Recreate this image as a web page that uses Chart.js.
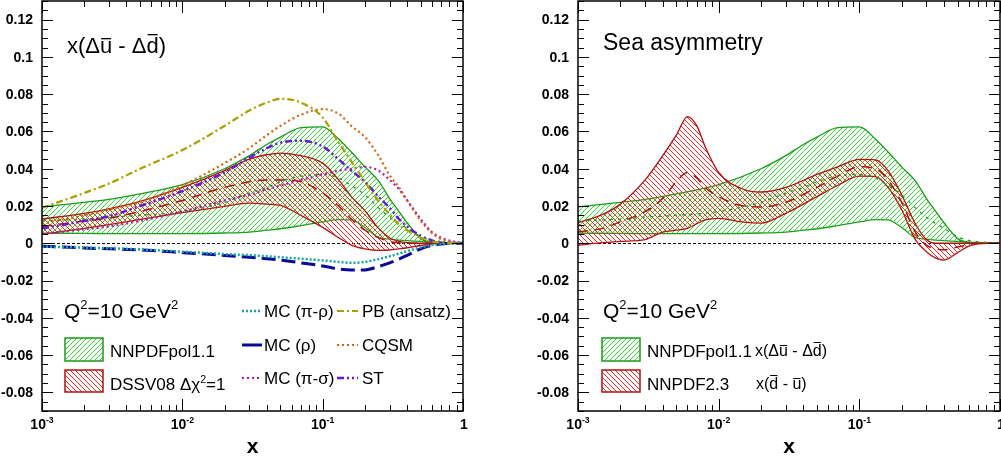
<!DOCTYPE html>
<html>
<head>
<meta charset="utf-8">
<script src="https://cdn.jsdelivr.net/npm/chart.js@4.4.0/dist/chart.umd.min.js"></script>
<style>
html, body { margin: 0; padding: 0; background: #fff; }
#wrap { position: relative; width: 1001px; height: 465px; overflow: hidden; }
#left, #right { position: absolute; top: 0; }
#left { left: 0; }
#right { left: 500px; }
</style>
</head>
<body>
<div id="wrap">
  <canvas id="left" width="490" height="465"></canvas>
  <canvas id="right" width="501" height="465"></canvas>
</div>
<script>
// x-Stützstellen (links, und NNPDFpol1.1 rechts)
const xGrid = [0.001, 0.002, 0.003, 0.005, 0.01, 0.02, 0.03, 0.04, 0.05, 0.07, 0.1, 0.13, 0.16, 0.2, 0.25, 0.3, 0.35, 0.4, 0.5, 0.6, 0.7, 0.85, 1];

// NNPDFpol1.1 Band
const nnpdfPolUp = [0.0195, 0.022, 0.0235, 0.0265, 0.0315, 0.040, 0.047, 0.053, 0.057, 0.062, 0.0625, 0.056, 0.049, 0.041, 0.0335, 0.024, 0.017, 0.011, 0.0025, 0.0005, 0.0002, 0.0001, 0];
const nnpdfPolLo = [0.0054, 0.0053, 0.0052, 0.0052, 0.0052, 0.0055, 0.006, 0.007, 0.0078, 0.0095, 0.0115, 0.0127, 0.0125, 0.0085, 0.003, 0.0022, 0.0017, 0.0014, 0.001, 0.0006, 0.0004, 0.0002, 0];
const nnpdfPolCv = [0.012, 0.013, 0.014, 0.015, 0.017, 0.022, 0.027, 0.030, 0.033, 0.036, 0.037, 0.035, 0.031, 0.026, 0.019, 0.014, 0.0105, 0.008, 0.0035, 0.0015, 0.0008, 0.0003, 0];

// DSSV08 Band
const dssvUp = [0.013, 0.016, 0.0185, 0.0225, 0.030, 0.039, 0.0452, 0.0475, 0.0484, 0.047, 0.043, 0.034, 0.025, 0.0175, 0.008, 0.003, 0.001, 0.0003, 0, 0, 0, 0, 0];
const dssvLo = [0.0048, 0.008, 0.010, 0.0128, 0.0165, 0.0198, 0.0215, 0.021, 0.0203, 0.015, 0.0085, 0.003, -0.001, -0.003, -0.0038, -0.0036, -0.003, -0.0024, -0.0012, -0.0004, 0, 0, 0];
const dssvCv = [0.009, 0.012, 0.0135, 0.017, 0.023, 0.030, 0.033, 0.034, 0.034, 0.033, 0.027, 0.020, 0.013, 0.007, 0.003, 0.001, 0.0003, 0, 0, 0, 0, 0, 0];

// Modellkurven
const pbAnsatz = [0.019, 0.027, 0.032, 0.040, 0.050, 0.063, 0.0712, 0.0755, 0.0775, 0.0755, 0.0675, 0.054, 0.044, 0.033, 0.0225, 0.0155, 0.010, 0.007, 0.003, 0.001, 0.0004, 0.0001, 0];
const cqsm = [0.0105, 0.015, 0.018, 0.022, 0.031, 0.043, 0.051, 0.058, 0.063, 0.069, 0.072, 0.0695, 0.063, 0.057, 0.047, 0.0365, 0.030, 0.023, 0.012, 0.0055, 0.0022, 0.0005, 0];
const st = [0.008, 0.012, 0.0145, 0.020, 0.028, 0.038, 0.046, 0.051, 0.054, 0.055, 0.052, 0.045, 0.039, 0.033, 0.025, 0.019, 0.013, 0.009, 0.004, 0.0015, 0.0006, 0.0002, 0];
const mcPiSigma = [0.005, 0.0075, 0.009, 0.012, 0.017, 0.023, 0.026, 0.029, 0.031, 0.034, 0.037, 0.039, 0.040, 0.041, 0.039, 0.034, 0.029, 0.023, 0.013, 0.006, 0.003, 0.001, 0];
const mcPiRho = [-0.0018, -0.0023, -0.0027, -0.0033, -0.0045, -0.0058, -0.0064, -0.007, -0.0075, -0.0083, -0.0092, -0.0100, -0.0105, -0.0100, -0.0085, -0.0070, -0.0055, -0.0042, -0.0022, -0.001, -0.0005, -0.0001, 0];
const mcRho = [-0.0016, -0.0025, -0.003, -0.0036, -0.005, -0.0065, -0.0075, -0.0083, -0.009, -0.0105, -0.0122, -0.0138, -0.0144, -0.0143, -0.0125, -0.0105, -0.0085, -0.0065, -0.003, -0.0012, -0.0004, 0, 0];

// NNPDF2.3 x(dbar - ubar), rechts
const x23Grid = [0.001, 0.0015, 0.002, 0.003, 0.004, 0.005, 0.006, 0.007, 0.008, 0.01, 0.015, 0.02, 0.03, 0.05, 0.07, 0.1, 0.13, 0.16, 0.2, 0.25, 0.3, 0.35, 0.4, 0.5, 0.6, 0.7, 0.85, 1];
const nnpdf23Up = [0.011, 0.0155, 0.021, 0.034, 0.047, 0.058, 0.068, 0.063, 0.052, 0.038, 0.029, 0.0275, 0.030, 0.037, 0.041, 0.045, 0.0448, 0.039, 0.026, 0.0105, 0.002, 0, 0, 0, 0, 0, 0, 0];
const nnpdf23Lo = [-0.001, 0.0003, 0.001, 0.002, 0.006, 0.007, 0.008, 0.0105, 0.0125, 0.0134, 0.0113, 0.0108, 0.016, 0.025, 0.031, 0.036, 0.0358, 0.030, 0.018, 0.002, -0.0045, -0.008, -0.009, -0.005, -0.0015, -0.0003, 0, 0];
const nnpdf23Cv = [0.006, 0.008, 0.0115, 0.017, 0.024, 0.033, 0.038, 0.035, 0.030, 0.025, 0.020, 0.0195, 0.022, 0.030, 0.036, 0.041, 0.040, 0.034, 0.022, 0.006, -0.001, -0.003, -0.0035, -0.002, -0.0008, 0, 0, 0];

// Achsen
const yMin = -0.09, yMax = 0.13;
const yTickLabels = ['-0.08', '-0.06', '-0.04', '-0.02', '0', '0.02', '0.04', '0.06', '0.08', '0.1', '0.12'];
const xTickExps = ['-3', '-2', '-1', ''];

// Farben
const greenHatch = '#2ee02e', greenLine = '#1b9a1b';
const redHatch = '#ff2020', redLine = '#b01212';
const FONT = '"Liberation Sans", Arial, sans-serif';

// Schraffur-Muster
function hatch(color, dir) {
    const s = 5;
    const c = document.createElement('canvas');
    c.width = s; c.height = s;
    const g = c.getContext('2d');
    g.strokeStyle = color;
    g.lineWidth = 1;
    g.beginPath();
    if (dir > 0) {
        g.moveTo(-1, s + 1); g.lineTo(s + 1, -1);
        g.moveTo(-1, 1); g.lineTo(1, -1);
        g.moveTo(s - 1, s + 1); g.lineTo(s + 1, s - 1);
    } else {
        g.moveTo(-1, -1); g.lineTo(s + 1, s + 1);
        g.moveTo(s - 1, -1); g.lineTo(s + 1, 1);
        g.moveTo(-1, s - 1); g.lineTo(1, s + 1);
    }
    g.stroke();
    return document.createElement('canvas').getContext('2d').createPattern(c, 'repeat');
}
const greenPattern = hatch(greenHatch, 1);
const redPattern = hatch(redHatch, -1);

const pts = (xs, ys) => xs.map((x, i) => ({ x: x, y: ys[i] }));

function line(data, color, width, dash, order) {
    return {
        data: data, borderColor: color, borderWidth: width, borderDash: dash,
        fill: false, pointRadius: 0, order: order, cubicInterpolationMode: 'monotone'
    };
}
function bandUpper(data, pattern, color, order) {
    return {
        data: data, borderColor: color, borderWidth: 1.3, backgroundColor: pattern,
        fill: '+1', pointRadius: 0, order: order, cubicInterpolationMode: 'monotone'
    };
}

// Text mit Hochstellung und Querstrichen
function rich(ctx, parts, x, y, size, bold, align) {
    const f = s => (bold ? 'bold ' : '') + s + 'px ' + FONT;
    let w = 0;
    for (const p of parts) {
        const o = typeof p === 'string' ? { t: p } : p;
        ctx.font = f(o.sup ? size * 0.62 : size);
        w += ctx.measureText(o.t).width;
    }
    let cx = align === 'center' ? x - w / 2 : x;
    ctx.textAlign = 'left';
    ctx.textBaseline = 'alphabetic';
    for (const p of parts) {
        const o = typeof p === 'string' ? { t: p } : p;
        const s = o.sup ? size * 0.62 : size;
        ctx.font = f(s);
        const tw = ctx.measureText(o.t).width;
        ctx.fillText(o.t, cx, y - (o.sup ? size * 0.42 : 0));
        if (o.bar) {
            ctx.fillRect(cx + size * 0.05, Math.round(y - size * o.bar), tw - size * 0.1, Math.max(1, size * 0.06));
        }
        cx += tw;
    }
}

function legendBox(ctx, x, y, w, h, pattern, color) {
    ctx.save();
    ctx.fillStyle = '#fff';
    ctx.fillRect(x, y, w, h);
    ctx.fillStyle = pattern;
    ctx.fillRect(x, y, w, h);
    ctx.strokeStyle = color;
    ctx.lineWidth = 1.5;
    ctx.strokeRect(x, y, w, h);
    ctx.restore();
}

function legendLine(ctx, x1, x2, y, color, width, dash) {
    ctx.save();
    ctx.strokeStyle = color;
    ctx.lineWidth = width;
    ctx.setLineDash(dash);
    ctx.beginPath();
    ctx.moveTo(x1, y);
    ctx.lineTo(x2, y);
    ctx.stroke();
    ctx.restore();
}

// Rahmen, Ticks und Beschriftung im ROOT-Stil
function framePlugin(extra) {
    return {
        id: 'frame',
        beforeDatasetsDraw(chart) {
            const { ctx, chartArea: a, scales: { y } } = chart;
            const y0 = Math.round(y.getPixelForValue(0)) + 0.5;
            ctx.save();
            ctx.strokeStyle = '#000';
            ctx.lineWidth = 1;
            ctx.setLineDash([3, 2]);
            ctx.beginPath();
            ctx.moveTo(a.left, y0);
            ctx.lineTo(a.right, y0);
            ctx.stroke();
            ctx.restore();
        },
        afterDraw(chart) {
            const { ctx, chartArea: a, scales: { x, y } } = chart;
            ctx.save();
            ctx.strokeStyle = '#000';
            ctx.lineWidth = 1;
            ctx.beginPath();
            // y-Ticks
            for (let k = -18; k <= 26; k++) {
                const p = Math.round(y.getPixelForValue(k * 0.005)) + 0.5;
                const len = k % 4 === 0 ? 11 : 6;
                ctx.moveTo(a.left, p); ctx.lineTo(a.left + len, p);
                ctx.moveTo(a.right, p); ctx.lineTo(a.right - len, p);
            }
            // x-Ticks
            for (let d = -3; d <= 0; d++) {
                for (let m = 1; m <= 9; m++) {
                    const v = m * Math.pow(10, d);
                    if (v > 1.0001) break;
                    const p = Math.round(x.getPixelForValue(v)) + 0.5;
                    const len = m === 1 ? 12 : 6;
                    ctx.moveTo(p, a.bottom); ctx.lineTo(p, a.bottom - len);
                    ctx.moveTo(p, a.top); ctx.lineTo(p, a.top + len);
                }
            }
            ctx.stroke();
            ctx.lineWidth = 1.5;
            ctx.strokeRect(a.left, a.top, a.right - a.left, a.bottom - a.top);

            ctx.fillStyle = '#000';
            // y-Beschriftung
            ctx.font = 'bold 14px ' + FONT;
            ctx.textAlign = 'right';
            ctx.textBaseline = 'middle';
            yTickLabels.forEach(t => {
                ctx.fillText(t, a.left - 9, y.getPixelForValue(parseFloat(t)) + 1);
            });
            // x-Beschriftung
            xTickExps.forEach((e, i) => {
                const px = x.getPixelForValue(Math.pow(10, i - 3));
                if (e) rich(ctx, ['10', { t: e, sup: true }], px, a.bottom + 18, 14, true, 'center');
                else rich(ctx, ['1'], px + 1, a.bottom + 18, 14, true, 'center');
            });
            rich(ctx, ['x'], (a.left + a.right) / 2, a.bottom + 42, 21, true, 'center');
            extra(ctx, chart);
            ctx.restore();
        }
    };
}

function baseOptions(padding) {
    return {
        responsive: false,
        animation: false,
        layout: { padding: padding },
        plugins: { legend: { display: false }, tooltip: { enabled: false } },
        scales: {
            x: { type: 'logarithmic', min: 0.001, max: 1, display: false },
            y: { min: yMin, max: yMax, display: false }
        }
    };
}

// linkes Diagramm
new Chart(document.getElementById('left'), {
    type: 'line',
    data: {
        datasets: [
            bandUpper(pts(xGrid, nnpdfPolUp), greenPattern, greenLine, 10),
            line(pts(xGrid, nnpdfPolLo), greenLine, 1.3, [], 10),
            bandUpper(pts(xGrid, dssvUp), redPattern, redLine, 9),
            line(pts(xGrid, dssvLo), redLine, 1.3, [], 9),
            line(pts(xGrid, nnpdfPolCv), greenLine, 1.3, [3, 5], 8),
            line(pts(xGrid, dssvCv), redLine, 1.5, [10, 7], 8),
            line(pts(xGrid, mcPiRho), '#15a5a5', 2.5, [2, 2], 2),
            line(pts(xGrid, mcRho), '#0a0a9a', 3, [14, 6], 2),
            line(pts(xGrid, mcPiSigma), '#b21ab2', 2.2, [2, 3], 2),
            line(pts(xGrid, pbAnsatz), '#a8a000', 2.2, [7, 3, 2, 3], 1),
            line(pts(xGrid, cqsm), '#d2660e', 2.2, [2, 3], 1),
            line(pts(xGrid, st), '#6c16d6', 2.5, [7, 3, 2, 3, 2, 3], 1)
        ]
    },
    options: baseOptions({ left: 42, right: 27, top: 1, bottom: 54 }),
    plugins: [framePlugin((ctx) => {
        rich(ctx, ['x(', 'Δ', { t: 'u', bar: 0.66 }, ' - ', 'Δ', { t: 'd', bar: 0.86 }, ')'], 67, 53, 22, false);
        rich(ctx, ['Q', { t: '2', sup: true }, '=10 GeV', { t: '2', sup: true }], 64, 318, 21, false);
        legendBox(ctx, 65, 338, 38, 23, greenPattern, greenLine);
        legendBox(ctx, 65, 370, 38, 22, redPattern, redLine);
        rich(ctx, ['NNPDFpol1.1'], 110, 357, 17, false);
        rich(ctx, ['DSSV08 Δχ', { t: '2', sup: true }, '=1'], 110, 390, 17, false);
        legendLine(ctx, 242, 262, 311, '#15a5a5', 2.5, [2, 2]);
        legendLine(ctx, 242, 262, 345, '#0a0a9a', 3, []);
        legendLine(ctx, 242, 262, 378, '#b21ab2', 2.2, [2, 3]);
        legendLine(ctx, 337, 358, 311, '#a8a000', 2.2, [7, 3, 2, 3]);
        legendLine(ctx, 337, 358, 345, '#d2660e', 2.2, [2, 3]);
        legendLine(ctx, 337, 358, 378, '#6c16d6', 2.5, [7, 3, 2, 3, 2, 3]);
        rich(ctx, ['MC (π-ρ)'], 264, 317, 17, false);
        rich(ctx, ['MC (ρ)'], 264, 351, 17, false);
        rich(ctx, ['MC (π-σ)'], 264, 384, 17, false);
        rich(ctx, ['PB (ansatz)'], 362, 317, 17, false);
        rich(ctx, ['CQSM'], 362, 351, 17, false);
        rich(ctx, ['ST'], 362, 384, 17, false);
    })]
});

// rechtes Diagramm
new Chart(document.getElementById('right'), {
    type: 'line',
    data: {
        datasets: [
            bandUpper(pts(xGrid, nnpdfPolUp), greenPattern, greenLine, 10),
            line(pts(xGrid, nnpdfPolLo), greenLine, 1.3, [], 10),
            bandUpper(pts(x23Grid, nnpdf23Up), redPattern, redLine, 9),
            line(pts(x23Grid, nnpdf23Lo), redLine, 1.3, [], 9),
            line(pts(xGrid, nnpdfPolCv), greenLine, 1.3, [3, 5], 8),
            line(pts(x23Grid, nnpdf23Cv), redLine, 1.5, [10, 7], 8)
        ]
    },
    options: baseOptions({ left: 78, right: 1, top: 1, bottom: 54 }),
    plugins: [framePlugin((ctx) => {
        rich(ctx, ['Sea asymmetry'], 103, 50, 23, false);
        rich(ctx, ['Q', { t: '2', sup: true }, '=10 GeV', { t: '2', sup: true }], 103, 318, 21, false);
        legendBox(ctx, 102, 338, 38, 23, greenPattern, greenLine);
        legendBox(ctx, 102, 370, 38, 22, redPattern, redLine);
        rich(ctx, ['NNPDFpol1.1'], 147, 357, 17, false);
        rich(ctx, ['NNPDF2.3'], 147, 390, 17, false);
        rich(ctx, ['x(', 'Δ', { t: 'u', bar: 0.66 }, ' - ', 'Δ', { t: 'd', bar: 0.86 }, ')'], 255, 356, 16, false);
        rich(ctx, ['x(', { t: 'd', bar: 0.86 }, ' - ', { t: 'u', bar: 0.66 }, ')'], 256, 389, 16, false);
    })]
});
</script>
</body>
</html>
